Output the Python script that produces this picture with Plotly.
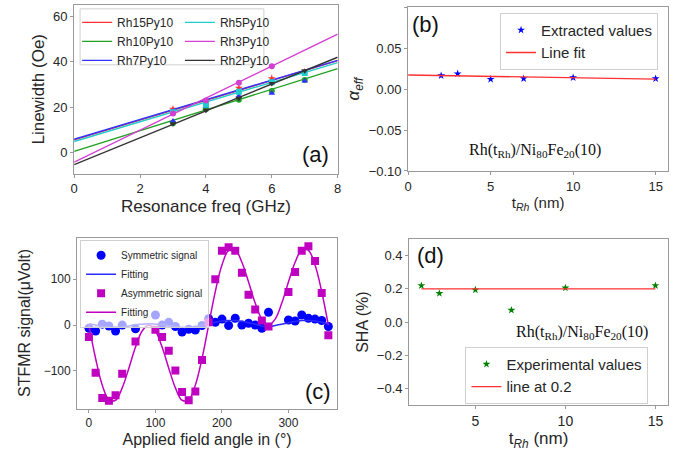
import plotly.graph_objects as go

W, H = 673, 462

# ---------------- (a) linewidth vs frequency ----------------
freq = [3, 4, 5, 6, 7]
freq_rh3 = [3, 4, 5, 6]
lw_rh15 = [19.1, 22.3, 28.4, 32.6, 35.5]
lw_rh10 = [12.9, 19.0, 23.2, 27.1, 31.9]
lw_rh7 = [13.8, 20.3, 24.9, 26.1, 31.5]
lw_rh5 = [17.7, 21.0, 26.8, 31.0, 35.0]
lw_rh3 = [17.1, 22.9, 30.7, 38.0]
lw_rh2 = [12.6, 18.6, 23.9, 30.4, 36.0]
fit_x = [0, 8]
fit_rh15 = [5.5, 40.5]
fit_rh10 = [0.4, 37.0]
fit_rh7 = [5.8, 40.6]
fit_rh5 = [4.8, 39.6]
fit_rh3 = [-4.3, 52.2]
fit_rh2 = [-5.4, 42.0]

# ---------------- (b) damping vs thickness ----------------
t_rh = [2, 3, 5, 7, 10, 15]
alpha_eff = [0.0164, 0.0188, 0.0120, 0.0128, 0.0140, 0.0128]
alpha_fit_x = [0, 15]
alpha_fit_y = [0.0172, 0.0122]

# ---------------- (c) STFMR angle dependence ----------------
ang_sym = [0, 10, 20, 30, 40, 50, 70, 100, 110, 120, 130, 140, 150, 160, 170,
           180, 190, 200, 210, 220, 230, 240, 250, 260, 270, 300, 310, 320,
           330, 340, 350, 360]
sym_sig = [-7, -13, 2, -2, -13, 0, -8, 22, 0, 6, -3, -15, -9, -11, -1,
           14, 6, 13, -1, 15, 0, 4, 0, -7, 28, 11, 9, 22, 15, 13, 10, -3]
ang_asym = [0, 10, 20, 30, 40, 50, 70, 100, 110, 120, 130, 140, 150, 160, 170,
            180, 190, 200, 210, 220, 230, 240, 250, 260, 270, 300, 310, 320,
            330, 340, 350, 360]
asym_sig = [-26, -104, -159, -165, -153, -106, -36, -10, -26, -56, -99, -146,
            -164, -145, -76, 6, 100, 162, 170, 162, 114, 66, 34, 10, -3, 72,
            116, 162, 172, 140, 70, -22]
ang_fit = [0, 10, 20, 30, 40, 50, 60, 70, 80, 90, 100, 110, 120, 130, 140, 150,
           160, 170, 180, 190, 200, 210, 220, 230, 240, 250, 260, 270, 280, 290,
           300, 310, 320, 330, 340, 350, 360]
sym_fit = [3, 0, -3, -5, -5, -4, -2, 1, 2, 3, 2, 1, -1, -3, -5, -5, -4, -1, 3,
           6, 9, 10, 10, 8, 5, 2, -2, -4, -1, 2, 5, 8, 10, 10, 9, 6, 2]
asym_fit = [0, -73, -131, -163, -164, -137, -94, -48, -13, 0, -13, -48, -94,
            -137, -164, -163, -131, -73, 0, 73, 131, 163, 164, 137, 94, 48, 13,
            0, 13, 48, 94, 137, 164, 163, 131, 73, 0]

# ---------------- (d) spin Hall angle ----------------
sha = [0.22, 0.173, 0.194, 0.072, 0.206, 0.22]
sha_line_x = [2, 15]
sha_line_y = [0.2, 0.2]

# tick labels
a_xticks = [0, 2, 4, 6, 8]
a_yticks = [0, 20, 40, 60]
b_xticks = [0, 5, 10, 15]
b_yticks = [-0.10, -0.05, 0.0, 0.05, 0.10]
b_yticktext = ["−0.10", "−0.05", "0.00", "0.05", "0.10"]
c_xticks = [0, 100, 200, 300]
c_yticks = [-100, 0, 100]
c_yticktext = ["−100", "0", "100"]
d_xticks = [5, 10, 15]
d_yticks = [-0.4, -0.2, 0.0, 0.2, 0.4]
d_yticktext = ["−0.4", "−0.2", "0.0", "0.2", "0.4"]

FONT = "Liberation Sans, Arial, sans-serif"
TXT = "#262626"
FRAME = "#9a9a9a"

def px(x):
    return x / W

def py(y):
    return 1 - y / H

fig = go.Figure()

# (a)
col_a = {"Rh15Py10": "#ff3030", "Rh10Py10": "#22a022", "Rh7Py10": "#3333ff",
         "Rh5Py10": "#22cccc", "Rh3Py10": "#d33fd3", "Rh2Py10": "#333333"}
series_a = [("Rh15Py10", freq, lw_rh15, fit_rh15, "star", "legend"),
            ("Rh10Py10", freq, lw_rh10, fit_rh10, "circle", "legend"),
            ("Rh7Py10", freq, lw_rh7, fit_rh7, "triangle-up", "legend"),
            ("Rh5Py10", freq, lw_rh5, fit_rh5, "square", "legend2"),
            ("Rh3Py10", freq_rh3, lw_rh3, fit_rh3, "circle", "legend2"),
            ("Rh2Py10", freq, lw_rh2, fit_rh2, "triangle-down", "legend2")]
for name, xs, ys, fy, sym, lg in series_a:
    c = col_a[name]
    fig.add_trace(go.Scatter(x=xs, y=ys, mode="markers", xaxis="x", yaxis="y",
                             marker=dict(color=c, size=6, symbol=sym),
                             showlegend=False, hoverinfo="skip"))
    fig.add_trace(go.Scatter(x=fit_x, y=fy, mode="lines", name=name,
                             xaxis="x", yaxis="y", legend=lg,
                             line=dict(color=c, width=1.4)))

# (b)
fig.add_trace(go.Scatter(x=t_rh, y=alpha_eff, mode="markers", name="Extracted values",
                         xaxis="x2", yaxis="y2", legend="legend3",
                         marker=dict(color="#0000ff", size=6, symbol="star")))
fig.add_trace(go.Scatter(x=alpha_fit_x, y=alpha_fit_y, mode="lines", name="Line fit",
                         xaxis="x2", yaxis="y2", legend="legend3",
                         line=dict(color="#ff3030", width=1.4)))

# (c)
fig.add_trace(go.Scatter(x=ang_sym, y=sym_sig, mode="markers", name="Symmetric signal",
                         xaxis="x3", yaxis="y3", legend="legend4",
                         marker=dict(color="#0000ff", size=9, symbol="circle")))
fig.add_trace(go.Scatter(x=ang_fit, y=sym_fit, mode="lines", name="Fitting",
                         xaxis="x3", yaxis="y3", legend="legend4",
                         line=dict(color="#2a2aff", width=1.5, shape="spline")))
fig.add_trace(go.Scatter(x=ang_asym, y=asym_sig, mode="markers", name="Asymmetric signal",
                         xaxis="x3", yaxis="y3", legend="legend4",
                         marker=dict(color="#c000c0", size=8, symbol="square")))
fig.add_trace(go.Scatter(x=ang_fit, y=asym_fit, mode="lines", name="Fitting",
                         xaxis="x3", yaxis="y3", legend="legend4",
                         line=dict(color="#c000c0", width=1.5, shape="spline")))

# (d)
fig.add_trace(go.Scatter(x=t_rh, y=sha, mode="markers", name="Experimental values",
                         xaxis="x4", yaxis="y4", legend="legend5",
                         marker=dict(color="#008000", size=6, symbol="star")))
fig.add_trace(go.Scatter(x=sha_line_x, y=sha_line_y, mode="lines", name="line at 0.2",
                         xaxis="x4", yaxis="y4", legend="legend5",
                         line=dict(color="#ff3030", width=1.4)))

def ax(domain, rng, tickvals, ticktext=None, title=None, anchor=None,
       tsize=16, ksize=13, standoff=4):
    d = dict(domain=domain, range=rng, tickvals=tickvals, showline=True,
             linecolor=FRAME, linewidth=1, mirror=True, ticks="outside",
             ticklen=3, tickcolor=FRAME, showgrid=False, zeroline=False,
             tickfont=dict(family=FONT, size=ksize, color=TXT), anchor=anchor)
    if ticktext is not None:
        d["ticktext"] = ticktext
    if title is not None:
        d["title"] = dict(text=title, font=dict(family=FONT, size=tsize, color=TXT),
                          standoff=standoff)
    return d

fig.update_layout(
    width=W, height=H, margin=dict(l=0, r=0, t=0, b=0),
    paper_bgcolor="white", plot_bgcolor="white",
    xaxis=ax([px(71), px(337.7)], [0, 8], a_xticks, title="Resonance freq (GHz)",
             anchor="y", tsize=17, ksize=13),
    yaxis=ax([py(176.7), py(5)], [-9.4, 65.1], a_yticks, title="Linewidth (Oe)",
             anchor="x", tsize=17, ksize=13),
    xaxis2=ax([px(409), px(672)], [0, 15.75], b_xticks,
              title="t<sub><i>Rh</i></sub> (nm)", anchor="y2", tsize=15, ksize=13),
    yaxis2=ax([py(174), py(7.3)], [-0.1, 0.1], b_yticks, b_yticktext,
              title="<i>α</i><sub><i>eff</i></sub>", anchor="x2", tsize=17, ksize=13),
    xaxis3=ax([px(74), px(337)], [-17.8, 373], c_xticks,
              title="Applied field angle in (°)", anchor="y3", tsize=16, ksize=12),
    yaxis3=ax([py(415.7), py(241.7)], [-182, 191], c_yticks, c_yticktext,
              title="STFMR signal(μVolt)", anchor="x3", tsize=16, ksize=12, standoff=9),
    xaxis4=ax([px(410), px(672)], [1.32, 15.7], d_xticks,
              title="t<sub><i>Rh</i></sub> (nm)", anchor="y4", tsize=17, ksize=14),
    yaxis4=ax([py(412.3), py(243.3)], [-0.5, 0.5], d_yticks, d_yticktext,
              title="SHA (%)", anchor="x4", tsize=16, ksize=13),
    legend=dict(x=px(74), y=py(8), xanchor="left", yanchor="top",
                bgcolor="rgba(0,0,0,0)", borderwidth=0,
                font=dict(family=FONT, size=12, color=TXT), tracegroupgap=0),
    legend2=dict(x=px(178), y=py(8), xanchor="left", yanchor="top",
                 bgcolor="rgba(0,0,0,0)", borderwidth=0,
                 font=dict(family=FONT, size=12, color=TXT), tracegroupgap=0),
    legend3=dict(x=px(502), y=py(13), xanchor="left", yanchor="top",
                 bgcolor="rgba(255,255,255,0.85)", bordercolor="#d0d0d0", borderwidth=1,
                 font=dict(family=FONT, size=15, color=TXT)),
    legend4=dict(x=px(77), y=py(244), xanchor="left", yanchor="top",
                 bgcolor="rgba(255,255,255,0.65)", bordercolor="#d0d0d0", borderwidth=1,
                 font=dict(family=FONT, size=10, color=TXT)),
    legend5=dict(x=px(467), y=py(353), xanchor="left", yanchor="top",
                 bgcolor="rgba(255,255,255,0.85)", bordercolor="#d0d0d0", borderwidth=1,
                 font=dict(family=FONT, size=15, color=TXT)),
    shapes=[dict(type="rect", xref="paper", yref="paper", layer="above",
                 x0=px(77), x1=px(263), y0=py(66), y1=py(9),
                 fillcolor="rgba(255,255,255,0.85)", line=dict(color="#d0d0d0", width=1))],
)

ann_font = dict(family=FONT, size=22, color="#111111")
serif = dict(family="Liberation Serif, Times New Roman, serif", size=16, color="#111111")
label = "Rh(t<sub>Rh</sub>)/Ni<sub>80</sub>Fe<sub>20</sub>(10)"
for txt, xx, yy, f in [("(a)", 315, 157, ann_font), ("(b)", 427, 25, ann_font),
                       ("(c)", 318, 398, ann_font), ("(d)", 432, 260, ann_font),
                       (label, 537, 153, serif), (label, 585, 338, serif)]:
    fig.add_annotation(text=txt, xref="paper", yref="paper", x=px(xx), y=py(yy),
                       xanchor="center", yanchor="middle", showarrow=False, font=f)

fig.write_html("out.html")
